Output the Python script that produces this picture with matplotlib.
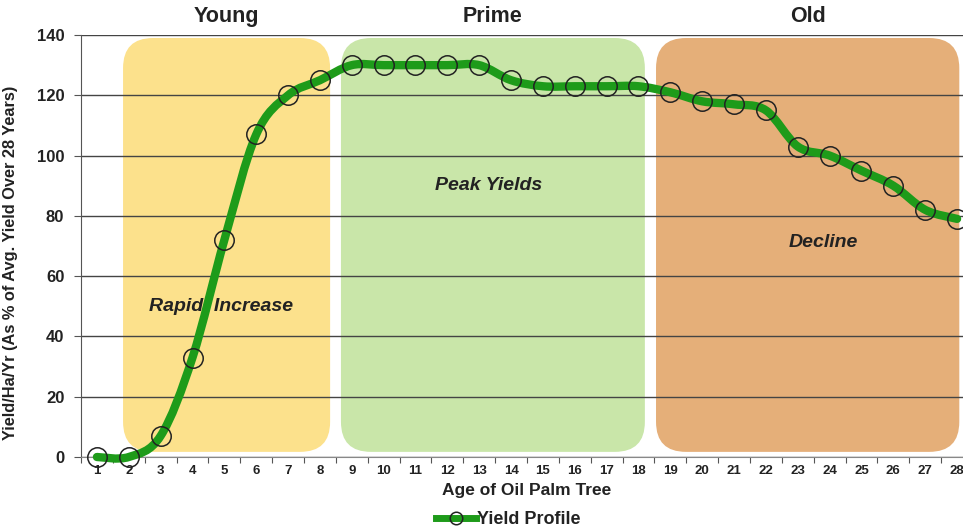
import matplotlib
matplotlib.use("Agg")
import matplotlib.pyplot as plt
from matplotlib.patches import FancyBboxPatch, PathPatch
from matplotlib.path import Path
from matplotlib.lines import Line2D
from matplotlib.transforms import IdentityTransform

plt.rcParams['font.family'] = ['Liberation Sans', 'DejaVu Sans']

# --- Datos ---
ages = list(range(1, 29))
yield_pct = [0, 0, 7, 33, 72, 107, 120, 125, 130, 130, 130, 130, 130, 125,
             123, 123, 123, 123, 121, 118, 117, 115, 103, 100, 95, 90, 82, 79]

stage_names = ['Young', 'Prime', 'Old']
stage_notes = ['Rapid  Increase', 'Peak Yields', 'Decline']
stage_x0 = [1.82, 8.66, 18.55]
stage_x1 = [8.32, 18.2, 28.07]
stage_colors = ['#FCE18C', '#C9E6A9', '#E5AF79']
note_pos = [(4.9, 50), (13.3, 90), (23.8, 71)]

LINE_GREEN = '#1E9B1A'
TXT = '#222222'

fig = plt.figure(figsize=(9.63, 5.30), dpi=100)
ax = fig.add_axes([81 / 963, (530 - 457) / 530, 892 / 963, 422 / 530])
ax.set_xlim(0.5, 28.5)
ax.set_ylim(0, 140)

# cajas redondeadas de cada etapa (en pixeles, para que el radio sea parejo)
fig.canvas.draw()
for x0, x1, c in zip(stage_x0, stage_x1, stage_colors):
    (px0, py0) = ax.transData.transform((x0, 1.7))
    (px1, py1) = ax.transData.transform((x1, 139))
    box = FancyBboxPatch((px0, py0), px1 - px0, py1 - py0,
                         boxstyle='round,pad=0,rounding_size=30',
                         transform=IdentityTransform(), facecolor=c,
                         edgecolor='none', zorder=0.5)
    ax.add_patch(box)

ax.set_yticks(range(0, 141, 20))
ax.yaxis.grid(True, color='#444444', linewidth=1.0)
for gl in ax.get_ygridlines():
    gl.set_zorder(1)

# linea suavizada estilo Excel (curvas de Bezier tipo Catmull-Rom)
pts = list(zip(ages, yield_pct))
verts = [pts[0]]
codes = [Path.MOVETO]
n = len(pts)
for i in range(n - 1):
    p0 = pts[max(i - 1, 0)]
    p1 = pts[i]
    p2 = pts[i + 1]
    p3 = pts[min(i + 2, n - 1)]
    c1 = (p1[0] + (p2[0] - p0[0]) / 6, p1[1] + (p2[1] - p0[1]) / 6)
    c2 = (p2[0] - (p3[0] - p1[0]) / 6, p2[1] - (p3[1] - p1[1]) / 6)
    verts += [c1, c2, p2]
    codes += [Path.CURVE4] * 3
curve = PathPatch(Path(verts, codes), facecolor='none', edgecolor=LINE_GREEN,
                  linewidth=6, capstyle='round', joinstyle='round', zorder=3,
                  clip_on=False)
ax.add_patch(curve)
ax.plot(ages, yield_pct, linestyle='none', marker='o', markersize=14,
        markerfacecolor='none', markeredgecolor=TXT, markeredgewidth=1.1,
        zorder=4, clip_on=False)

ax.set_xticks([i + 0.5 for i in range(0, 29)])
ax.set_xticklabels([])
ax.set_xticks(ages, minor=True)
ax.set_xticklabels([str(a) for a in ages], minor=True, fontsize=9.5,
                   fontweight='bold', color=TXT)
ax.tick_params(axis='x', which='major', length=4, direction='out', color='#555555')
ax.tick_params(axis='x', which='minor', length=0, pad=6)
ax.tick_params(axis='y', length=5, direction='out', color='#555555', pad=7)
for lab in ax.get_yticklabels():
    lab.set_fontsize(12)
    lab.set_fontweight('bold')
    lab.set_color(TXT)

for side in ['top', 'right']:
    ax.spines[side].set_visible(False)
ax.spines['left'].set_color('#555555')
ax.spines['bottom'].set_color('#888888')

for name, x0, x1 in zip(stage_names, stage_x0, stage_x1):
    ax.text((x0 + x1) / 2, 146, name, ha='center', va='center', fontsize=15.5,
            fontweight='bold', color=TXT, clip_on=False)
for note, (nx, ny) in zip(stage_notes, note_pos):
    ax.text(nx, ny, note, ha='center', va='center', fontsize=14,
            fontweight='bold', fontstyle='italic', color=TXT)

ax.set_xlabel('Age of Oil Palm Tree', fontsize=12.5, fontweight='bold',
              color=TXT, labelpad=4)
ax.set_ylabel('Yield/Ha/Yr (As % of Avg. Yield Over 28 Years)', fontsize=11.8,
              fontweight='bold', color=TXT)
ax.yaxis.set_label_coords(-0.0706, 0.46)

handle = Line2D([], [], color=LINE_GREEN, linewidth=5, marker='o',
                markersize=9, markerfacecolor='none', markeredgecolor=TXT,
                markeredgewidth=1.1)
leg = fig.legend([handle], ['Yield Profile'], loc='center',
                 bbox_to_anchor=(0.528, 0.019), frameon=False,
                 prop={'weight': 'bold', 'size': 13}, handlelength=2.2,
                 handletextpad=0.1, borderpad=0)
for t in leg.get_texts():
    t.set_color(TXT)

fig.savefig('out.png', dpi=100)
